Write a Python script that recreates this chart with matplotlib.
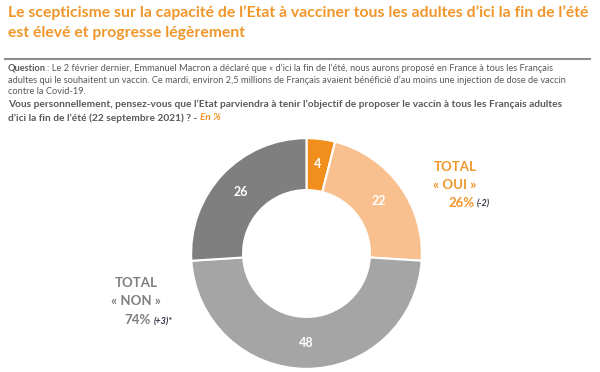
import numpy as np
import matplotlib
matplotlib.use('Agg')
import matplotlib.pyplot as plt

plt.rcParams['font.family'] = ['Lato', 'DejaVu Sans']

# Survey answers, clockwise from the top
values = [4, 22, 48, 26]
colors = ['#F28E1C', '#F9C08F', '#A5A5A5', '#7F7F7F']

W, H = 600, 372
fig = plt.figure(figsize=(W / 100, H / 100), dpi=100)
renderer = fig.canvas.get_renderer()

def fx(x):
    return x / W

def fy(y):
    return 1 - y / H

def after(t, gap=2):
    # x pixel position right after a text item
    bb = t.get_window_extent(renderer)
    return bb.x1 + gap

# Titles
orange = '#F0962A'
fig.text(fx(8), fy(13), "Le scepticisme sur la capacité de l’Etat à vacciner tous les adultes d’ici la fin de l’été",
         color=orange, fontsize=11.3, fontweight='bold', va='center')
fig.text(fx(8), fy(33), "est élevé et progresse légèrement",
         color=orange, fontsize=11.3, fontweight='bold', va='center')

fig.add_artist(plt.Line2D([fx(5), fx(590)], [fy(59), fy(59)], color='#8C8C8C', lw=1.5))

grey_txt = '#595959'
q = fig.text(fx(8), fy(68), "Question", color=grey_txt, fontsize=6.7, fontweight='bold', va='center')
fig.text(fx(after(q, 1)), fy(68), ": Le 2 février dernier, Emmanuel Macron a déclaré que « d’ici la fin de l’été, nous aurons proposé en France à tous les Français",
         color=grey_txt, fontsize=6.7, va='center')
fig.text(fx(8), fy(80), "adultes qui le souhaitent un vaccin. Ce mardi, environ 2,5 millions de Français avaient bénéficié d’au moins une injection de dose de vaccin",
         color=grey_txt, fontsize=6.7, va='center')
fig.text(fx(8), fy(91), "contre la Covid-19.", color=grey_txt, fontsize=6.7, va='center')

fig.text(fx(8), fy(104), "Vous personnellement, pensez-vous que l’Etat parviendra à tenir l’objectif de proposer le vaccin à tous les Français adultes",
         color=grey_txt, fontsize=7.3, fontweight='bold', va='center')
b = fig.text(fx(8), fy(117), "d’ici la fin de l’été (22 septembre 2021) ? -",
             color=grey_txt, fontsize=7.3, fontweight='bold', va='center_baseline')
fig.text(fx(after(b, 3)), fy(117), "En %", color=orange, fontsize=7.3, fontweight='bold',
         style='italic', va='center_baseline')

# Donut
ax = fig.add_axes([fx(190), 2 / H, 233 / W, 233 / H])
wedges, texts = ax.pie(values, colors=colors, startangle=90, counterclock=False,
                       radius=1, wedgeprops=dict(width=0.45, edgecolor='white', linewidth=1.5),
                       labels=[str(v) for v in values], labeldistance=0.78,
                       textprops=dict(color='white', fontsize=9, fontweight='bold'))
for t in texts:
    t.set_ha('center')
    t.set_va('center')
ax.set_xlim(-1.01, 1.01)
ax.set_ylim(-1.01, 1.01)
ax.set_aspect('equal')
ax.axis('off')

# Totals
oui_c = '#F0962A'
fig.text(fx(455), fy(167), "TOTAL", color=oui_c, fontsize=9.5, fontweight='bold', ha='center', va='center')
fig.text(fx(455), fy(185), "« OUI »", color=oui_c, fontsize=9.5, fontweight='bold', ha='center', va='center')
p = fig.text(fx(448), fy(207), "26%", color=oui_c, fontsize=9.5, fontweight='bold', va='baseline')
fig.text(fx(after(p, 3)), fy(207), "(-2)", color='#333344', fontsize=6.5, fontweight='bold',
         style='italic', va='baseline')

non_c = '#7F7F7F'
fig.text(fx(136), fy(283), "TOTAL", color=non_c, fontsize=9.5, fontweight='bold', ha='center', va='center')
fig.text(fx(136), fy(301), "« NON »", color=non_c, fontsize=9.5, fontweight='bold', ha='center', va='center')
p = fig.text(fx(124), fy(324), "74%", color=non_c, fontsize=9.5, fontweight='bold', va='baseline')
fig.text(fx(after(p, 3)), fy(324), "(+3)*", color='#333344', fontsize=6.5, fontweight='bold',
         style='italic', va='baseline')

fig.savefig('out.png', dpi=100)
